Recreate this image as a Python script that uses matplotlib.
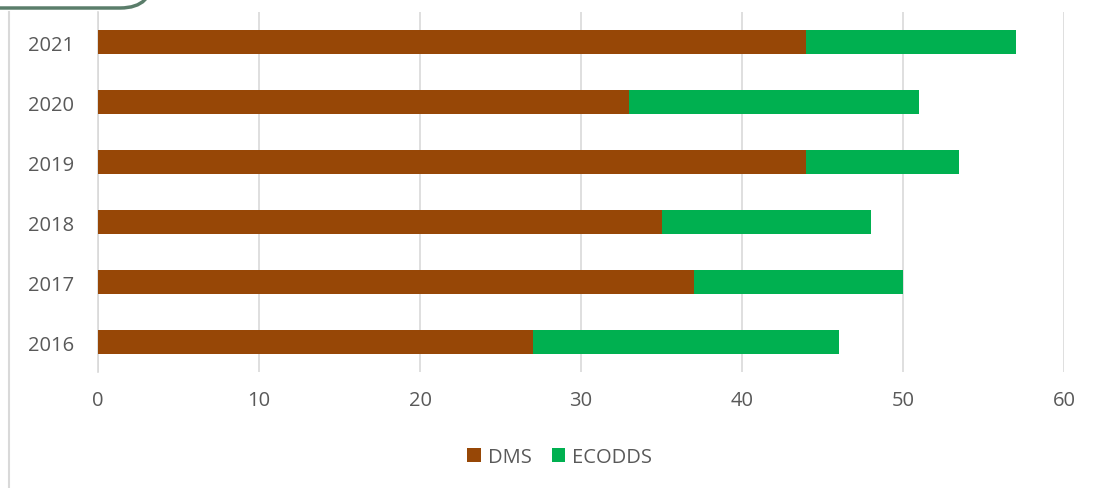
import matplotlib.pyplot as plt
from matplotlib.patches import FancyBboxPatch
from matplotlib.lines import Line2D

years = ["2016", "2017", "2018", "2019", "2020", "2021"]
dms = [27, 37, 35, 44, 33, 44]
ecodds = [19, 13, 13, 9.5, 18, 13]

plt.rcParams["font.family"] = ["Open Sans", "DejaVu Sans"]
text_color = "#595959"

fig = plt.figure(figsize=(10.93, 4.89), dpi=100)
ax = fig.add_axes((0.0897, 0.2372, 0.8838, 0.7362))

ax.barh(years, dms, height=0.4, color="#974706", label="DMS", zorder=3)
ax.barh(years, ecodds, left=dms, height=0.4, color="#00B050", label="ECODDS", zorder=3)

ax.set_xlim(0, 60)
ax.set_ylim(-0.5, 5.5)
ax.set_xticks(range(0, 61, 10))
ax.grid(axis="x", color="#d9d9d9", linewidth=1.2, zorder=0)
for s in ["top", "right", "bottom"]:
    ax.spines[s].set_visible(False)
ax.spines["left"].set_color("#d9d9d9")
ax.spines["left"].set_linewidth(1.2)
ax.tick_params(length=0, labelsize=14.5, colors=text_color)
ax.tick_params(axis="x", pad=13)
ax.tick_params(axis="y", pad=17.5)

ax.legend(loc="center", bbox_to_anchor=(0.512, 0.0633), bbox_transform=fig.transFigure,
          ncol=2, frameon=False, fontsize=14.5, handlelength=0.65, handleheight=0.65,
          handletextpad=0.35, columnspacing=1.0, labelcolor=text_color)

# decorative frame pieces from the source slide
fig.patches.append(FancyBboxPatch((-0.05, 1.0 - 9 / 489), 0.19, 0.1,
                                  boxstyle="round,pad=0,rounding_size=0.03",
                                  transform=fig.transFigure, fill=False,
                                  edgecolor="#5a7d6a", linewidth=2.5, mutation_aspect=2.2))
fig.lines.append(Line2D([9 / 1093, 9 / 1093], [0, 1 - 13 / 489], transform=fig.transFigure,
                        color="#d9d9d9", linewidth=1.5))

fig.savefig("out.png", dpi=100)
